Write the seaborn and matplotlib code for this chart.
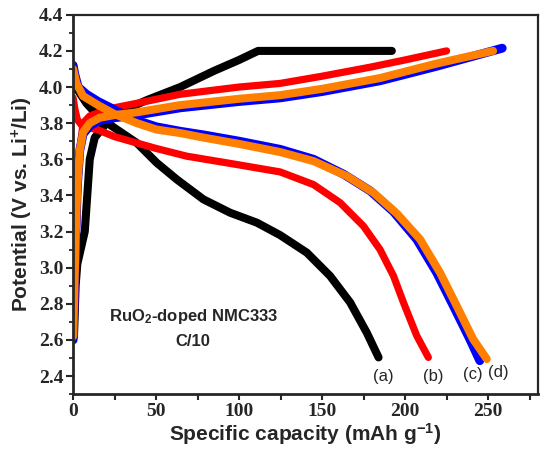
import matplotlib
matplotlib.use("Agg")
import matplotlib.pyplot as plt
import seaborn as sns
from matplotlib.ticker import MultipleLocator

# (a) black
a_chg_x = [0.5, 1.5, 2.5, 4.5, 7, 8.5, 10, 13, 20, 30, 45, 64.5, 85, 100, 111.4, 150, 192]
a_chg_y = [2.62, 2.9, 3.02, 3.1, 3.2, 3.4, 3.6, 3.72, 3.8, 3.87, 3.93, 4.0, 4.09, 4.15, 4.2, 4.2, 4.2]
a_dis_x = [0, 3, 8, 14, 22.3, 38.4, 50.4, 62.5, 78.5, 94.6, 110.7, 124.7, 140.8, 154.8, 166.9, 176.9, 184]
a_dis_y = [4.05, 3.98, 3.91, 3.85, 3.79, 3.69, 3.58, 3.488, 3.378, 3.304, 3.249, 3.18, 3.083, 2.954, 2.807, 2.64, 2.503]

# (b) red
b_chg_x = [0.5, 1.5, 2.5, 4, 6, 10, 22, 38.4, 64.5, 100, 124.7, 150, 179, 200, 225]
b_chg_y = [2.62, 3.0, 3.4, 3.65, 3.8, 3.84, 3.88, 3.91, 3.96, 4.0, 4.02, 4.06, 4.11, 4.15, 4.2]
b_dis_x = [0, 1, 2.5, 5, 9, 14.3, 25, 38.4, 50, 68.5, 98.6, 124.7, 144.8, 160.8, 174.9, 184.9, 193, 199, 207, 214]
b_dis_y = [3.94, 3.88, 3.82, 3.79, 3.775, 3.765, 3.725, 3.69, 3.66, 3.617, 3.571, 3.53, 3.46, 3.36, 3.23, 3.10, 2.954, 2.807, 2.623, 2.503]

# (c) blue
c_chg_x = [0, 0.8, 1.6, 2.5, 4, 6, 10, 16, 25, 38.4, 64.5, 100, 124.7, 150, 185, 219, 258.5]
c_chg_y = [2.6, 2.9, 3.2, 3.45, 3.65, 3.74, 3.785, 3.815, 3.83, 3.845, 3.885, 3.92, 3.94, 3.975, 4.035, 4.115, 4.215]
c_dis_x = [0, 1, 3, 8, 15, 28, 38.4, 50, 64.5, 78.5, 100, 124.7, 144.8, 163, 179, 193, 207, 219, 229, 239, 245]
c_dis_y = [4.12, 4.07, 4.0, 3.96, 3.92, 3.86, 3.815, 3.78, 3.755, 3.735, 3.70, 3.655, 3.60, 3.517, 3.425, 3.31, 3.157, 2.973, 2.79, 2.604, 2.485]

# (d) orange
d_chg_x = [0, 0.8, 1.6, 2.5, 4, 6, 10, 16, 25, 38.4, 64.5, 100, 124.7, 150, 185, 219, 253]
d_chg_y = [2.62, 2.9, 3.2, 3.45, 3.65, 3.75, 3.8, 3.83, 3.845, 3.86, 3.9, 3.935, 3.955, 3.99, 4.05, 4.13, 4.2]
d_dis_x = [0, 2, 6, 15, 25, 38.4, 50, 64.5, 78.5, 100, 124.7, 144.8, 164.9, 180.9, 195, 209, 221, 231, 241, 249.2]
d_dis_y = [4.1, 4.02, 3.95, 3.9, 3.85, 3.8, 3.765, 3.745, 3.72, 3.685, 3.64, 3.59, 3.507, 3.415, 3.30, 3.157, 2.973, 2.79, 2.604, 2.494]

curve_labels = ["(a)", "(b)", "(c)", "(d)"]
label_x = [186.7, 216.9, 240.6, 256.3]
label_y = [2.4, 2.4, 2.41, 2.42]

sns.set_style("ticks")
plt.rcParams['mathtext.default'] = 'regular'

fig = plt.figure(figsize=(5.5, 4.62), dpi=100)
ax = fig.add_axes([0.133, 0.147, 0.845, 0.821])

styles = [
    (a_chg_x, a_chg_y, a_dis_x, a_dis_y, "black", 5.8),
    (b_chg_x, b_chg_y, b_dis_x, b_dis_y, "#ff0000", 5.2),
    (c_chg_x, c_chg_y, c_dis_x, c_dis_y, "#0000ff", 6.4),
    (d_chg_x, d_chg_y, d_dis_x, d_dis_y, "#ff8000", 5.8),
]
for cx, cy, dx, dy, col, lw in styles:
    for xs, ys in [(cx, cy), (dx, dy)]:
        sns.lineplot(x=xs, y=ys, sort=False, estimator=None, color=col,
                     linewidth=lw, solid_joinstyle='round', ax=ax)

for lx, ly, lab in zip(label_x, label_y, curve_labels):
    ax.text(lx, ly, lab, ha='center', va='center', fontsize=12,
            family='Liberation Sans')

ax.text(72.3, 2.73, "RuO$_2$-doped NMC333", ha='center', va='center',
        fontsize=12, fontweight='bold', family='Liberation Sans')
ax.text(72.3, 2.59, "C/10", ha='center', va='center',
        fontsize=12, fontweight='bold', family='Liberation Sans')

ax.set_xlim(0, 280)
ax.set_ylim(2.3, 4.4)
ax.xaxis.set_major_locator(MultipleLocator(50))
ax.xaxis.set_minor_locator(MultipleLocator(25))
ax.yaxis.set_major_locator(MultipleLocator(0.2))
ax.yaxis.set_minor_locator(MultipleLocator(0.1))
ax.yaxis.set_major_formatter(plt.FormatStrFormatter('%.1f'))

ax.tick_params(axis='both', which='major', direction='out', width=1.5, labelsize=14, pad=2)
ax.tick_params(axis='y', which='major', length=5)
ax.tick_params(axis='y', which='minor', direction='out', length=3, width=1.3)
ax.tick_params(axis='x', which='major', length=4.5)
ax.tick_params(axis='x', which='minor', direction='out', length=4.5, width=1.5)
for t in ax.get_xticklabels() + ax.get_yticklabels():
    t.set_family('Liberation Serif')
    t.set_fontweight('bold')

for side in ['left', 'bottom']:
    ax.spines[side].set_linewidth(2)
for side in ['top', 'right']:
    ax.spines[side].set_linewidth(1.6)

ax.set_xlabel("Specific capacity (mAh g$^{-1}$)", fontsize=15, fontweight='bold',
              family='Liberation Sans', labelpad=1)
ax.set_ylabel("Potential (V vs. Li$^{+}$/Li)", fontsize=15, fontweight='bold',
              family='Liberation Sans', labelpad=3)

plt.savefig('out.png', dpi=100)
plt.close()
